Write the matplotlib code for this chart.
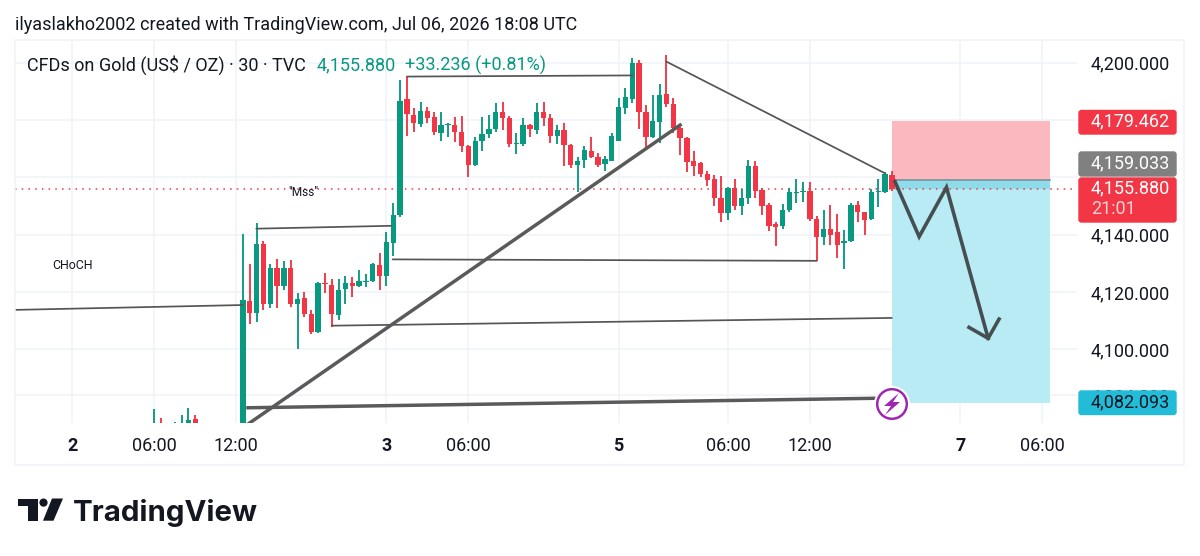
import matplotlib
matplotlib.use("Agg")
import matplotlib.pyplot as plt
from matplotlib.patches import FancyBboxPatch, Rectangle, Circle, Polygon

plt.rcParams['font.family'] = ['Roboto', 'DejaVu Sans']

GREEN = '#089981'
RED = '#f23645'
GRID = '#f0f3fa'
INK = '#131722'
LINE = '#555555'

# ---------- data: 30-minute candles (bar number, open, high, low, close) ----------
bars = [-13, -12, -10, -9, -8, -7] + list(range(0, 96))
opens = [4072, 4073, 4072, 4072, 4073, 4075.7,
 4060, 4117.0, 4112.8, 4136.8, 4115.9, 4128.3, 4122.1, 4128.3, 4115.9, 4117.8,
 4112.3, 4106.2, 4123.1, 4122.5, 4112.0, 4121.1, 4123.3, 4122.2, 4123.5, 4124.0,
 4129.4, 4125.6, 4137.0, 4146.9, 4187.2, 4181.7, 4178.6, 4183.1, 4180.9, 4175.6,
 4178.2, 4178.1, 4175.7, 4170.9, 4164.3, 4172.8, 4175.1, 4176.7, 4182.8, 4180.5,
 4171.5, 4171.6, 4178.2, 4176.5, 4182.8, 4180.5, 4174.4, 4176.5, 4171.3, 4164.3,
 4166.0, 4169.3, 4167.2, 4164.6, 4165.8, 4172.8, 4184.0, 4187.2, 4199.7, 4182.6,
 4173.9, 4179.4, 4189.0, 4185.5, 4177.1, 4173.8, 4165.7, 4164.9, 4161.1, 4159.3,
 4152.7, 4147.7, 4156.2, 4150.1, 4152.7, 4164.1, 4155.6, 4150.5, 4143.6, 4143.0,
 4148.5, 4154.6, 4154.9, 4155.2, 4145.6, 4139.3, 4142.1, 4140.8, 4137.0, 4137.8,
 4150.5, 4148.0, 4145.3, 4154.9, 4155.0, 4160.8]
highs = [4079.2, 4076.2, 4074.8, 4077.2, 4079.7, 4077.2,
 4140.2, 4129.8, 4144.0, 4137.9, 4129.7, 4131.4, 4131.0, 4131.2, 4119.8, 4120.0,
 4113.8, 4123.6, 4126.8, 4124.5, 4124.5, 4125.6, 4125.1, 4127.7, 4126.3, 4130.3,
 4133.7, 4140.8, 4150.9, 4193.9, 4195.1, 4184.0, 4186.4, 4184.4, 4182.9, 4182.6,
 4178.8, 4180.9, 4181.5, 4171.2, 4173.9, 4180.9, 4181.7, 4185.8, 4186.4, 4181.5,
 4175.3, 4180.8, 4178.6, 4185.8, 4186.1, 4182.1, 4178.2, 4179.0, 4171.5, 4167.0,
 4170.9, 4174.2, 4168.3, 4167.4, 4175.3, 4187.5, 4191.0, 4201.5, 4200.9, 4185.2,
 4188.7, 4192.4, 4202.6, 4187.5, 4177.6, 4174.2, 4169.0, 4165.4, 4162.2, 4160.8,
 4160.5, 4156.7, 4159.4, 4155.8, 4166.0, 4165.8, 4156.2, 4150.9, 4144.5, 4150.7,
 4156.2, 4159.4, 4158.5, 4158.5, 4146.5, 4148.6, 4150.3, 4147.2, 4141.6, 4150.9,
 4151.7, 4148.0, 4155.8, 4159.4, 4161.7, 4162.3]
lows = [4070, 4070, 4070, 4070, 4070, 4070,
 4050, 4108.9, 4109.7, 4113.8, 4114.3, 4114.3, 4120.7, 4114.9, 4100.0, 4111.4,
 4105.3, 4105.6, 4119.6, 4107.7, 4110.3, 4115.9, 4118.2, 4121.9, 4121.9, 4123.6,
 4120.7, 4122.1, 4132.6, 4146.3, 4174.4, 4175.9, 4177.6, 4178.8, 4174.7, 4172.8,
 4174.2, 4172.4, 4168.7, 4160.0, 4163.9, 4169.0, 4173.6, 4175.9, 4176.5, 4170.7,
 4168.0, 4170.9, 4174.2, 4175.1, 4178.0, 4171.8, 4171.5, 4164.0, 4163.1, 4155.0,
 4163.1, 4166.7, 4163.7, 4162.3, 4165.8, 4172.5, 4181.9, 4186.0, 4176.8, 4169.7,
 4173.6, 4171.8, 4184.4, 4175.6, 4167.8, 4162.0, 4160.4, 4160.0, 4157.0, 4150.1,
 4144.3, 4145.1, 4148.6, 4146.9, 4150.7, 4152.7, 4146.7, 4141.3, 4136.2, 4141.9,
 4148.0, 4151.2, 4151.5, 4144.9, 4130.9, 4136.5, 4136.4, 4131.8, 4128.0, 4137.3,
 4144.5, 4140.0, 4145.1, 4149.8, 4154.4, 4155.3]
closes = [4073, 4072, 4073, 4073, 4075.4, 4072,
 4117.2, 4112.8, 4136.8, 4115.9, 4128.3, 4122.1, 4128.3, 4115.9, 4117.5, 4112.3,
 4106.2, 4123.1, 4122.7, 4112.4, 4120.7, 4123.3, 4122.1, 4124.0, 4124.0, 4129.7,
 4125.6, 4137.3, 4146.9, 4186.7, 4182.1, 4178.8, 4183.2, 4180.8, 4175.8, 4178.1,
 4178.5, 4175.8, 4170.9, 4164.4, 4172.8, 4175.1, 4176.7, 4182.9, 4180.5, 4171.5,
 4171.8, 4178.2, 4176.7, 4182.8, 4180.5, 4174.4, 4176.5, 4171.3, 4164.3, 4165.8,
 4169.5, 4167.0, 4164.3, 4166.5, 4174.5, 4184.4, 4187.9, 4200.0, 4182.9, 4174.2,
 4179.6, 4188.7, 4185.5, 4177.1, 4173.6, 4165.4, 4164.1, 4161.1, 4159.1, 4152.7,
 4147.7, 4156.4, 4150.0, 4152.7, 4164.1, 4155.2, 4150.1, 4143.1, 4142.8, 4148.5,
 4154.8, 4155.0, 4155.2, 4145.3, 4139.3, 4142.1, 4140.0, 4136.5, 4137.8, 4150.5,
 4148.0, 4145.1, 4154.8, 4155.3, 4161.1, 4155.88]

time_ticks = [-25, -13, -1, 21, 33, 55, 71, 83, 105, 117]
time_labels = ['2', '06:00', '12:00', '3', '06:00', '5', '06:00', '12:00', '7', '06:00']
price_grid = [4200, 4180, 4160, 4140, 4120, 4100, 4084]
price_labels = ['4,200.000', '', '', '4,140.000', '4,120.000', '4,100.000', '4,084.000']

last_price = 4155.88
stop_price = 4179.462
entry_price = 4159.033
box_bottom = 4081.4
box_bars = [95, 118.2]

thin_lines = [
    ([-33.4, 0], [4113.8, 4115.5]),
    ([1.95, 21.7], [4142.1, 4143.1]),
    ([24, 57], [4195.1, 4195.5]),
    ([21.9, 84], [4131.4, 4130.9]),
    ([13, 95], [4108.3, 4111.0]),
    ([62, 94], [4200.3, 4161.4]),
]
thick_lines = [
    ([0.73, 64], [4074.0, 4178.2]),
    ([0.73, 92.5], [4079.7, 4083.0]),
]
path_bars = [95.46, 99.0, 103.0, 109.1]
path_prices = [4158.5, 4139.3, 4156.5, 4103.9]
head_bars = [106.3, 109.1, 110.7]
head_prices = [4107.7, 4103.9, 4110.6]

# ---------- figure ----------
W, H = 1200, 556
fig = plt.figure(figsize=(W / 100, H / 100), dpi=100, facecolor='white')
ax = fig.add_axes([15 / W, (H - 423) / H, (1077 - 15) / W, (423 - 40) / H])
ax.set_xlim(-33.38, 122.11)
ax.set_ylim(4074.39, 4207.84)
for s in ax.spines.values():
    s.set_visible(False)

ax.set_xticks(time_ticks)
ax.set_xticklabels(time_labels, fontsize=13, color=INK)
for lab, txt in zip(ax.get_xticklabels(), time_labels):
    if ':' not in txt:
        lab.set_fontweight('bold')
ax.yaxis.tick_right()
ax.set_yticks(price_grid)
ax.set_yticklabels(price_labels, fontsize=13, color=INK)
ax.tick_params(axis='x', length=0, pad=10)
ax.tick_params(axis='y', length=0, pad=10)
ax.grid(True, color=GRID, lw=1.2, zorder=0)
ax.set_axisbelow(True)

# position tool
ax.fill_between(box_bars, entry_price, stop_price, color='#fbb9bf', lw=0, zorder=1)
ax.fill_between(box_bars, box_bottom, entry_price, color='#b9ebf4', lw=0, zorder=1)
ax.fill_between(box_bars, last_price, entry_price, color='#8edbe9', lw=0, zorder=1.1)
ax.plot(box_bars, [entry_price, entry_price], color='#6f8f96', lw=1.1, zorder=1.2)

# candles
cols = [GREEN if c >= o else RED for o, c in zip(opens, closes)]
ax.vlines(bars, lows, highs, colors=cols, lw=1.35, zorder=3)
ax.bar(bars, [abs(c - o) for o, c in zip(opens, closes)],
       bottom=[min(o, c) for o, c in zip(opens, closes)],
       width=0.78, color=cols, lw=0, zorder=3.1)

# last price line
ax.plot([-33.38, 121.5], [last_price, last_price], color=RED, lw=1.1,
        dashes=(1, 3.4), zorder=2.5)

# drawings
for xs, ys in thin_lines:
    ax.plot(xs, ys, color=LINE, lw=1.25, zorder=4, solid_capstyle='round')
for xs, ys in thick_lines:
    ax.plot(xs, ys, color='#5a5a5a', lw=2.5, zorder=4)
ax.plot(path_bars, path_prices, color='#454f52', lw=2.6, zorder=5, solid_joinstyle='miter')
ax.plot(head_bars, head_prices, color='#454f52', lw=2.6, zorder=5, solid_joinstyle='miter')

ax.text(-24.9, 4129.4, 'CHoCH', fontsize=8.9, color=INK, ha='center', va='center', zorder=5)
ax.text(8.8, 4154.7, '"Mss"', fontsize=8.6, color=INK, ha='center', va='center', zorder=5)

# ---------- page overlay in pixels ----------
ov = fig.add_axes([0, 0, 1, 1], facecolor='none')
ov.set_xlim(0, W)
ov.set_ylim(H, 0)
ov.axis('off')

ov.add_patch(Rectangle((15, 40), 1169, 425, fill=False, ec=GRID, lw=1.1))
ov.text(15, 24.5, 'ilyaslakho2002 created with TradingView.com, Jul 06, 2026 18:08 UTC',
        fontsize=12.97, color=INK, va='center', ha='left')
ov.text(27, 65, 'CFDs on Gold (US$ / OZ) · 30 · TVC', fontsize=13, color=INK, va='center', ha='left')
ov.text(317, 65, '4,155.880', fontsize=13, color=GREEN, va='center', ha='left')
ov.text(405, 65, '+33.236 (+0.81%)', fontsize=13, color=GREEN, va='center', ha='left')


def tag(y0, y1, color):
    ov.add_patch(FancyBboxPatch((1079, y0 + 1), 97, y1 - y0 - 2,
                                boxstyle='round,pad=0,rounding_size=2.5', fc=color, ec=color, lw=1))


tag(109.5, 135, RED)
ov.text(1091, 121.5, '4,179.462', fontsize=13, color='white', va='center')
tag(151, 177, '#808080')
ov.text(1091, 163, '4,159.033', fontsize=13, color='white', va='center')
tag(177, 223, RED)
ov.text(1091, 188, '4,155.880', fontsize=13, color='white', va='center')
ov.text(1091, 209, '21:01', fontsize=13, color='#fbd0d4', va='center')
tag(390, 415.5, '#22bcd8')
ov.text(1091, 402, '4,082.093', fontsize=13, color=INK, va='center')

# alert icon
ov.add_patch(Circle((892, 404), 18, fc='white', ec='none', zorder=5.5))
ov.add_patch(Circle((892, 404), 14.8, fc='white', ec='#9c27b0', lw=1.8, zorder=6))
ov.add_patch(Polygon([(899, 393), (884, 406), (891, 406), (885, 415), (900, 402), (893, 402)],
                     closed=True, fc='#9c27b0', ec='none', zorder=7))

# logo
ov.add_patch(Polygon([(18, 498.5), (37.5, 498.5), (37.5, 520.7), (27.5, 520.7), (27.5, 506), (18, 506)],
                     closed=True, fc=INK, ec='none'))
ov.add_patch(Circle((43.5, 502.6), 4.1, fc=INK, ec='none'))
ov.add_patch(Polygon([(52, 498.5), (63, 498.5), (53.5, 520.7), (43, 520.7)],
                     closed=True, fc=INK, ec='none'))
ov.text(73, 513, 'TradingView', fontsize=21.2, fontweight='bold', color=INK, va='center', ha='left',
        family=['Inter', 'Roboto'])

fig.savefig('out.png', dpi=100)
